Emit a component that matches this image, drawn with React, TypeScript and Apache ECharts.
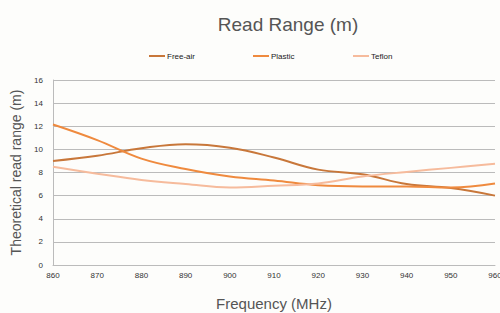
import React, { useEffect, useRef } from "react";
import * as echarts from "echarts";

const frequencies = [860, 870, 880, 890, 900, 910, 920, 930, 940, 950, 960];
const freeAir = [9.0, 9.45, 10.1, 10.45, 10.15, 9.3, 8.25, 7.85, 7.0, 6.65, 6.0];
const plastic = [12.15, 10.8, 9.2, 8.3, 7.65, 7.3, 6.9, 6.8, 6.8, 6.7, 7.05];
const teflon = [8.5, 7.9, 7.35, 7.0, 6.7, 6.85, 7.05, 7.65, 8.05, 8.4, 8.75];

const seriesNames = ["Free-air", "Plastic", "Teflon"];
const seriesColors = ["#c8773a", "#ef8a3e", "#f6bb9c"];
const yTicks = [0, 2, 4, 6, 8, 10, 12, 14, 16];

export default function App() {
  const ref = useRef<HTMLDivElement>(null);
  useEffect(() => {
    document.body.style.margin = "0";
    const chart = echarts.init(ref.current!, null, { renderer: "svg" });
    const values = [freeAir, plastic, teflon];
    const legendLefts = [149, 253, 353];
    chart.setOption({
      animation: false,
      backgroundColor: "#fdfdfb",
      title: {
        text: "Read Range (m)",
        left: 283,
        top: 10,
        textAlign: "center",
        textStyle: { fontFamily: "Liberation Sans", fontSize: 19, fontWeight: "normal", color: "#555555" },
      },
      legend: seriesNames.map((n, i) => ({
        data: [n],
        left: legendLefts[i],
        top: 52,
        padding: 0,
        itemWidth: 16,
        itemHeight: 2,
        itemGap: 2,
        icon: "rect",
        textStyle: { fontFamily: "Liberation Sans", fontSize: 8, color: "#222222", padding: [0, 0, 0, -3] },
      })),
      grid: { left: 53, right: 5, top: 80, bottom: 48, outerBoundsMode: "none", containLabel: false },
      xAxis: {
        type: "value",
        min: 860,
        max: 960,
        interval: 10,
        name: "Frequency (MHz)",
        nameLocation: "middle",
        nameGap: 31,
        nameTextStyle: { fontFamily: "Liberation Sans", fontSize: 15, color: "#555555" },
        axisLine: { show: true, lineStyle: { color: "#bbbbbb" } },
        axisTick: { show: false },
        splitLine: { show: false },
        axisLabel: { fontFamily: "Liberation Sans", fontSize: 8, color: "#333333", margin: 6 },
      },
      yAxis: {
        type: "value",
        min: 0,
        max: 16,
        interval: 2,
        name: "Theoretical read range (m)",
        nameLocation: "middle",
        nameGap: 28,
        nameTextStyle: { fontFamily: "Liberation Sans", fontSize: 14, color: "#555555" },
        axisLine: { show: true, lineStyle: { color: "#bbbbbb" } },
        axisTick: { show: false },
        splitLine: { show: true, lineStyle: { color: "#bbbbbb", width: 1 } },
        axisLabel: {
          fontFamily: "Liberation Sans",
          fontSize: 8,
          color: "#333333",
          margin: 10,
          formatter: (v: number) => (yTicks.includes(v) ? String(v) : ""),
        },
      },
      series: seriesNames.map((n, i) => ({
        name: n,
        type: "line",
        smooth: 0.4,
        showSymbol: false,
        symbol: "none",
        color: seriesColors[i],
        lineStyle: { width: 2, color: seriesColors[i] },
        data: frequencies.map((f, j) => [f, values[i][j]]),
      })),
    });
    return () => chart.dispose();
  }, []);
  return <div ref={ref} style={{ width: 500, height: 313 }} />;
}
